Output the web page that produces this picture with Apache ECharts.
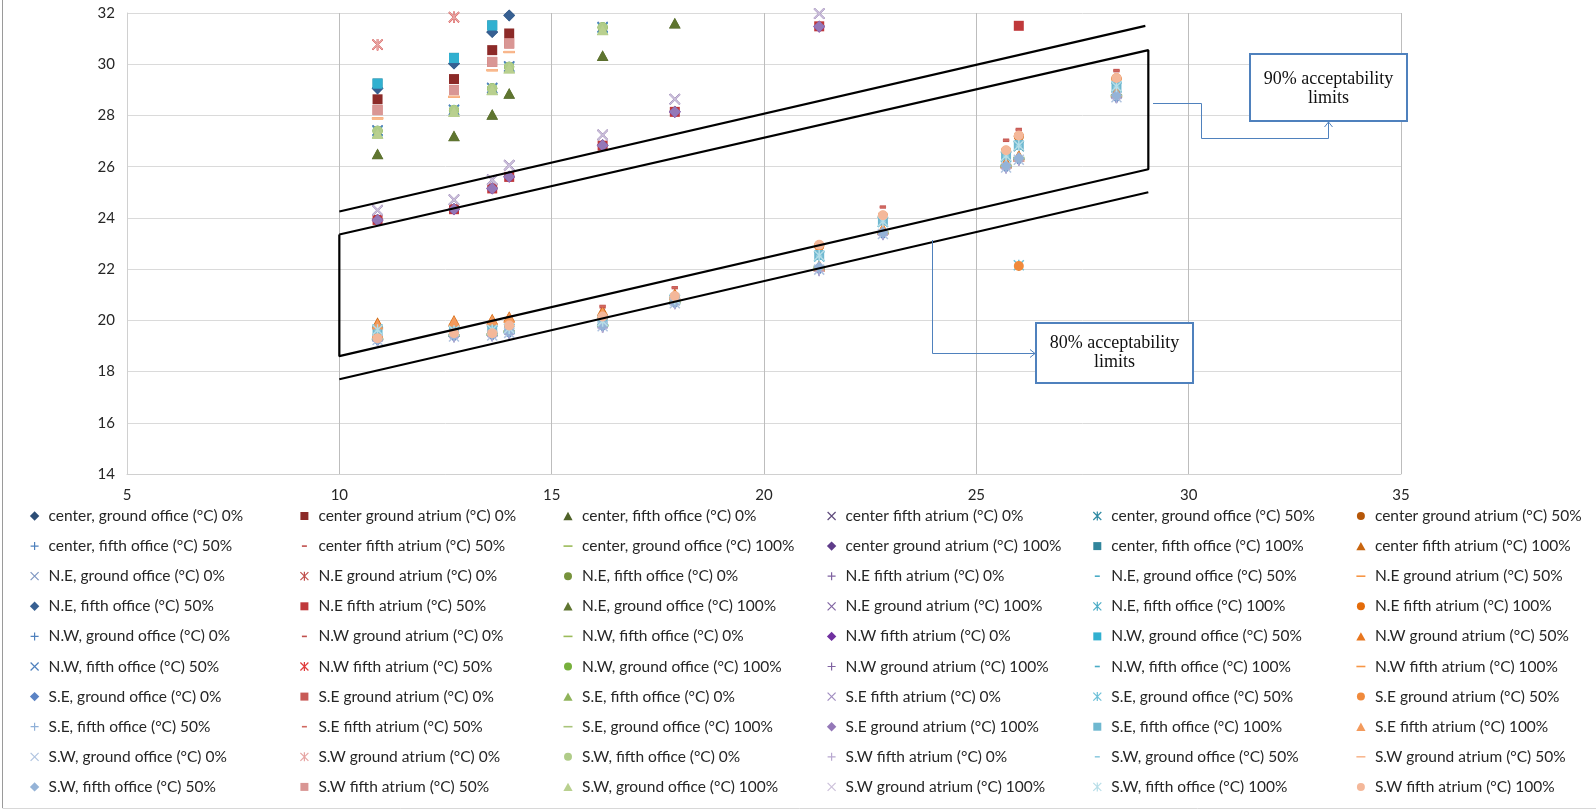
<!DOCTYPE html>
<html><head><meta charset="utf-8">
<script src="https://cdn.jsdelivr.net/npm/echarts@6/dist/echarts.min.js"></script>
<style>html,body{margin:0;padding:0;background:#fff}#c{width:1596px;height:812px}</style>
</head><body><div id="c"></div><script>
// ---------- DATA ----------
const outdoorTemps = [10.9, 12.7, 13.6, 14.0, 16.2, 17.9, 21.3, 22.8, 25.7, 26.0, 28.3];
const xTickLabels = [5, 10, 15, 20, 25, 30, 35];
const yTickLabels = [14, 16, 18, 20, 22, 24, 26, 28, 30, 32];
const locations = ['center', 'N.E', 'N.W', 'S.E', 'S.W'];
const spaces = ['ground office', 'ground atrium', 'fifth office', 'fifth atrium'];
const ratios = ['0%', '50%', '100%'];
const _ = null; // above the plotted range
// order inside each location: ground office 0%, ground atrium 0%, fifth office 0%, fifth atrium 0%, then 50%, then 100%
const centerTemps = [
  [29.06, 30.03, 31.26, 31.91, _, _, _, _, _, _, _],
  [28.63, 29.42, 30.55, 31.20, _, _, _, _, _, _, _],
  [26.49, 27.20, 28.04, 28.86, 30.33, 31.60, _, _, _, _, _],
  [24.30, 24.71, 25.49, 26.05, 27.24, 28.63, 31.98, _, _, _, _],
  [19.62, 19.58, 19.60, 19.66, 19.95, 20.80, 22.50, 23.85, 26.40, 26.80, 29.10],
  [19.35, 19.50, 19.52, 19.75, 20.10, 20.90, 22.90, 24.05, 26.60, 27.18, 29.42],
  [19.22, 19.36, 19.40, 19.50, 19.76, 20.66, 21.96, 23.36, 25.96, 26.26, 28.70],
  [19.70, 19.85, 19.90, 20.00, 20.57, 21.30, 22.95, 24.45, 27.06, 27.48, 29.78],
  [19.25, 19.40, 19.45, 19.55, 19.80, 20.70, 22.05, 23.40, 26.00, 26.30, 28.75],
  [23.93, 24.35, 25.16, 25.62, 26.84, 28.15, 31.48, _, _, _, _],
  [29.25, 30.25, 31.52, _, _, _, _, _, _, _, _],
  [19.92, 20.00, 20.05, 20.15, 20.38, 21.05, 22.15, 23.60, 26.20, 26.45, 28.95]
];
const neTemps = [
  [27.42, 28.22, 29.08, 29.92, 31.45, _, _, _, _, _, _],
  [30.77, 31.84, _, _, _, _, _, _, _, _, _],
  [27.40, 28.21, 29.06, 29.90, 31.44, _, _, _, _, _, _],
  [23.95, 24.36, 25.18, 25.63, 26.86, 28.16, 31.47, _, _, _, _],
  [19.58, 19.55, 19.58, 19.64, 19.92, 20.78, 22.48, 23.82, 26.38, 26.78, 29.08],
  [27.89, 28.73, 29.77, 30.48, _, _, _, _, _, _, _],
  [29.05, 30.02, 31.25, 31.90, _, _, _, _, _, _, _],
  [23.92, 24.34, 25.15, 25.60, 26.82, 28.14, 31.48, _, _, 31.50, _],
  [26.50, 27.21, 28.05, 28.87, 30.34, 31.61, _, _, _, _, _],
  [24.31, 24.72, 25.50, 26.06, 27.25, 28.64, 31.98, _, _, _, _],
  [27.38, 28.20, 29.05, 29.88, 31.42, _, _, _, _, _, _],
  [19.32, 19.48, 19.50, 19.78, 20.12, 20.92, 22.92, 24.08, 26.62, 27.20, 29.44]
];
const nwTemps = [
  [19.20, 19.34, 19.38, 19.48, 19.72, 20.64, 21.94, 23.34, 25.94, 26.24, 28.68],
  [19.68, 19.80, 19.88, 19.98, 20.50, 21.25, 22.90, 24.40, 27.00, 27.42, 29.72],
  [19.28, 19.42, 19.46, 19.58, 19.82, 20.72, 22.10, 23.45, 26.05, 26.35, 28.80],
  [23.90, 24.33, 25.14, 25.60, 26.83, 28.13, 31.46, _, _, _, _],
  [29.24, 30.24, 31.51, _, _, _, _, _, _, _, _],
  [19.88, 19.97, 20.02, 20.12, 20.33, 21.00, 22.10, 23.55, 26.12, 26.40, 28.90],
  [27.41, 28.22, 29.07, 29.91, 31.45, _, _, _, _, _, _],
  [30.76, 31.83, _, _, _, _, _, _, _, _, _],
  [27.39, 28.20, 29.05, 29.89, 31.43, _, _, _, _, _, _],
  [23.94, 24.36, 25.17, 25.63, 26.85, 28.16, 31.49, _, _, _, _],
  [19.64, 19.60, 19.62, 19.68, 19.98, 20.82, 22.52, 23.88, 26.42, 26.82, 29.12],
  [27.88, 28.72, 29.76, 30.47, _, _, _, _, _, _, _]
];
const seTemps = [
  [19.24, 19.38, 19.42, 19.52, 19.78, 20.68, 22.00, 23.38, 25.98, 26.28, 28.72],
  [28.21, 28.99, 30.09, 30.81, _, _, _, _, _, _, _],
  [27.30, 28.15, 29.00, 29.85, 31.35, _, _, _, _, _, _],
  [24.29, 24.70, 25.48, 26.04, 27.23, 28.62, 31.97, _, _, _, _],
  [19.60, 19.57, 19.59, 19.65, 19.94, 20.79, 22.49, 23.84, 26.39, 22.15, 29.09],
  [19.34, 19.52, 19.55, 19.76, 20.12, 20.93, 22.90, 24.06, 26.60, 22.12, 29.45],
  [19.21, 19.35, 19.39, 19.49, 19.74, 20.65, 21.95, 23.35, 25.95, 26.25, 28.69],
  [19.72, 19.85, 19.92, 20.02, 20.55, 21.28, 22.92, 24.42, 27.03, 27.45, 29.75],
  [19.26, 19.41, 19.44, 19.56, 19.79, 20.69, 22.04, 23.41, 26.01, 26.31, 28.76],
  [23.91, 24.34, 25.15, 25.61, 26.83, 28.14, 31.47, _, _, _, _],
  [19.66, 19.62, 19.64, 19.70, 20.00, 20.84, 22.55, 23.90, 26.45, 26.85, 29.15],
  [19.85, 19.95, 20.00, 20.10, 20.30, 20.98, 22.12, 23.58, 26.15, 26.42, 28.92]
];
const swTemps = [
  [19.23, 19.37, 19.41, 19.51, 19.77, 20.67, 21.98, 23.37, 25.97, 26.27, 28.71],
  [30.77, 31.84, _, _, _, _, _, _, _, _, _],
  [27.40, 28.21, 29.06, 29.90, 31.44, _, _, _, _, _, _],
  [19.19, 19.33, 19.37, 19.47, 19.70, 20.62, 21.92, 23.32, 25.92, 26.22, 28.66],
  [19.61, 19.56, 19.61, 19.67, 19.96, 20.81, 22.51, 23.86, 26.41, 26.81, 29.11],
  [27.89, 28.73, 29.77, 30.48, _, _, _, _, _, _, _],
  [19.27, 19.43, 19.47, 19.57, 19.81, 20.71, 22.08, 23.43, 26.03, 26.33, 28.78],
  [28.21, 28.99, 30.09, 30.81, _, _, _, _, _, _, _],
  [27.29, 28.14, 28.99, 29.84, 31.34, _, _, _, _, _, _],
  [24.30, 24.71, 25.49, 26.05, 27.24, 28.63, 31.98, _, _, _, _],
  [19.63, 19.59, 19.63, 19.69, 19.97, 20.83, 22.53, 23.87, 26.43, 26.83, 29.13],
  [19.30, 19.50, 19.50, 19.80, 20.15, 20.95, 22.95, 24.10, 26.64, 27.22, 29.46]
];
// acceptability limit lines [outdoor, indoor]
const limit80Upper = [[10, 24.25], [28.98, 31.5]];
const limit80Lower = [[10, 17.7], [29.05, 25.0]];
const limit90Box = [[10, 23.35], [29.05, 30.55], [29.05, 25.9], [10, 18.6], [10, 23.35]];

// ---------- STYLE ----------
const palette = [
'#2c4d75','#8c2a28','#4f6228','#5f4b7c','#2e8aa3','#b65708',
'#4f81bd','#c0504d','#9bbb59','#5f3c8a','#31859c','#c8650f',
'#7f97c2','#c0504d','#77933c','#8064a2','#4bacc6','#f79646',
'#376092','#c0393b','#5f7530','#8064a2','#4bacc6','#e46c0a',
'#4f81bd','#c0504d','#9bbb59','#7030a0','#31b0d0','#e8761e',
'#4f81bd','#e03c3c','#77b03c','#8064a2','#4bacc6','#f79646',
'#5b83c4','#c85a56','#8fb35a','#a08cc0','#6cc0d8','#f08a3c',
'#8fb0d8','#d06860','#a9c47a','#9478b8','#6fb8d0','#f39a5c',
'#b0c4e0','#e6a5a3','#b0cc88','#b8a8d0','#90cce0','#f8b890',
'#95b3d7','#d99694','#b9d08f','#ccc0da','#b7dee8','#f4b89a'];
const AN = 'M0,0M10,10';
const XP = 'M0.58,1.42L1.42,0.58L9.42,8.58L8.58,9.42ZM8.58,0.58L9.42,1.42L1.42,9.42L0.58,8.58Z';
const symbols = [
  'path://' + AN + 'M5,0.3L9.7,5L5,9.7L0.3,5Z',
  'path://' + AN + 'M1,1L9,1L9,9L1,9Z',
  'path://' + AN + 'M5,0.8L9.6,9.2L0.4,9.2Z',
  'path://' + AN + XP,
  'path://' + AN + XP + 'M4.4,0.5L5.6,0.5L5.6,9.5L4.4,9.5Z',
  'path://' + AN + 'M1,5A4,4 0 1 0 9,5A4,4 0 1 0 1,5Z',
  'path://' + AN + 'M1,4.4L9,4.4L9,5.6L1,5.6ZM4.4,1L5.6,1L5.6,9L4.4,9Z',
  'path://' + AN + 'M2.5,4.2L7.5,4.2L7.5,5.8L2.5,5.8Z',
  'path://' + AN + 'M0.5,4.2L9.5,4.2L9.5,5.8L0.5,5.8Z'
];
const FONT = 'Lato';
const allTemps = [].concat(centerTemps, neTemps, nwTemps, seTemps, swTemps);
const names = [];
locations.forEach(loc => ratios.forEach(r => spaces.forEach(s => {
  names.push(s.indexOf('office') >= 0 ? `${loc}, ${s} (°C) ${r}` : `${loc} ${s} (°C) ${r}`);
})));

const series = allTemps.map((ys, i) => ({
  type: 'scatter', name: names[i],
  symbol: symbols[i % 9], symbolSize: 12.5,
  itemStyle: { color: palette[i], opacity: 1 },
  data: ys.map((y, k) => [outdoorTemps[k], y]).filter(p => p[1] !== null),
  clip: true, silent: true
}));
const lineStyle = { color: '#000', width: 2.2 };
[limit80Upper, limit80Lower, limit90Box].forEach(d => series.push({
  type: 'line', data: d, symbol: 'none', lineStyle, silent: true, z: 5, legendHoverLink: false
}));

const colCenters = [35.6, 305.4, 569, 832.6, 1098.3, 1361.9];
const legends = colCenters.map((cx, c) => {
  const data = [];
  for (let r = 0; r < 10; r++) { const i = r * 6 + c; data.push({ name: names[i], icon: symbols[i % 9] }); }
  return {
    orient: 'vertical', left: cx - 6, top: 508, padding: 0,
    itemWidth: 18, itemHeight: 10, itemGap: 14.1, selectedMode: false,
    symbolKeepAspect: true,
    textStyle: { fontFamily: FONT, fontSize: 15.5, color: '#262626', lineHeight: 16 },
    data
  };
});

const blue = '#4f81bd';
const option = {
  animation: false,
  backgroundColor: '#fff',
  grid: { left: 127, right: 195, top: 13, bottom: 338 },
  xAxis: {
    type: 'value', min: xTickLabels[0], max: xTickLabels[xTickLabels.length - 1], interval: 5,
    axisLine: { show: true, lineStyle: { color: '#d0d0d0' } },
    axisTick: { show: false },
    axisLabel: { fontFamily: FONT, fontSize: 15, color: '#262626', margin: 14 },
    splitLine: { show: true, lineStyle: { color: '#bdbdbd' } }
  },
  yAxis: {
    type: 'value', min: yTickLabels[0], max: yTickLabels[yTickLabels.length - 1], interval: 2,
    axisLine: { show: true, lineStyle: { color: '#d0d0d0' } },
    axisTick: { show: false },
    axisLabel: { fontFamily: FONT, fontSize: 15, color: '#262626', margin: 12 },
    splitLine: { show: true, lineStyle: { color: '#dadada' } }
  },
  legend: legends,
  series,
  graphic: [
    { type: 'line', shape: { x1: 2.5, y1: 0, x2: 2.5, y2: 808 }, style: { stroke: '#9a9a9a', lineWidth: 1 } },
    { type: 'line', shape: { x1: 2.5, y1: 808.5, x2: 1596, y2: 808.5 }, style: { stroke: '#d8d8d8', lineWidth: 1 } },
    // 90% connector
    { type: 'polyline', shape: { points: [[1153, 103.5], [1201.5, 103.5], [1201.5, 138.5], [1328.5, 138.5], [1328.5, 122]] }, style: { stroke: blue, lineWidth: 1, fill: null }, z: 10 },
    { type: 'polyline', shape: { points: [[1324.5, 127], [1328.5, 122], [1332.5, 127]] }, style: { stroke: blue, lineWidth: 1, fill: null }, z: 10 },
    // 80% connector
    { type: 'polyline', shape: { points: [[932.5, 240], [932.5, 353.5], [1035, 353.5]] }, style: { stroke: blue, lineWidth: 1, fill: null }, z: 10 },
    { type: 'polyline', shape: { points: [[1030, 349.5], [1035, 353.5], [1030, 357.5]] }, style: { stroke: blue, lineWidth: 1, fill: null }, z: 10 },
    // boxes
    { type: 'rect', shape: { x: 1250, y: 54, width: 157, height: 67 }, style: { fill: '#fff', stroke: blue, lineWidth: 2 }, z: 10 },
    { type: 'text', x: 1328.5, y: 88.5, style: { text: '90% acceptability\nlimits', font: '18px "Liberation Serif"', fill: '#111', align: 'center', verticalAlign: 'middle', lineHeight: 19 }, z: 11 },
    { type: 'rect', shape: { x: 1036, y: 323, width: 157, height: 60 }, style: { fill: '#fff', stroke: blue, lineWidth: 2 }, z: 10 },
    { type: 'text', x: 1114.5, y: 353, style: { text: '80% acceptability\nlimits', font: '18px "Liberation Serif"', fill: '#111', align: 'center', verticalAlign: 'middle', lineHeight: 19 }, z: 11 }
  ]
};
const chart = echarts.init(document.getElementById('c'), null, { renderer: 'canvas' });
chart.setOption(option);
</script></body></html>
